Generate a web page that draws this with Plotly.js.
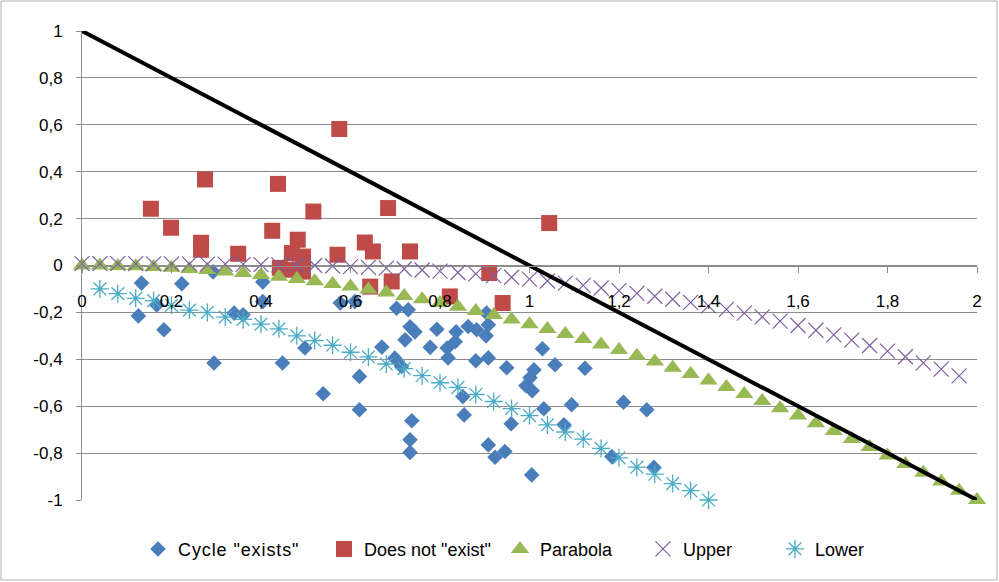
<!DOCTYPE html>
<html>
<head>
<meta charset="utf-8">
<script src="https://cdn.plot.ly/plotly-3.0.1.min.js"></script>
<style>
html,body{margin:0;padding:0;background:#fff;}
#chart{width:999px;height:582px;}
.legendtext{letter-spacing:0.9px;}
</style>
</head>
<body>
<div id="chart"></div>
<script>
// ---- Data ----
const cycleX = [0.133,0.223,0.293,0.404,0.404,0.167,0.126,0.183,0.340,0.360,0.295,0.448,0.498,0.539,0.577,0.610,0.703,0.729,0.733,0.744,0.722,0.793,0.836,0.834,0.778,0.816,0.818,0.863,0.882,0.904,0.903,0.908,0.880,0.908,0.949,0.670,0.699,0.714,0.620,0.620,0.851,0.854,0.737,0.733,0.733,0.908,0.923,0.945,0.959,1.029,1.057,1.010,0.992,1.006,1.094,1.032,1.077,1.005,1.124,1.210,1.262,1.184,1.278,1.001];
const cycleY = [-0.075,-0.078,-0.027,-0.070,-0.154,-0.168,-0.215,-0.274,-0.203,-0.210,-0.416,-0.416,-0.352,-0.547,-0.160,-0.154,-0.182,-0.189,-0.261,-0.283,-0.317,-0.272,-0.283,-0.325,-0.349,-0.352,-0.394,-0.260,-0.274,-0.203,-0.300,-0.253,-0.406,-0.394,-0.436,-0.348,-0.395,-0.431,-0.473,-0.615,-0.559,-0.637,-0.662,-0.743,-0.797,-0.765,-0.818,-0.793,-0.675,-0.355,-0.423,-0.445,-0.513,-0.534,-0.594,-0.611,-0.679,-0.893,-0.438,-0.583,-0.615,-0.815,-0.861,-0.479];

const notX = [0.154,0.199,0.275,0.266,0.266,0.349,0.438,0.425,0.442,0.482,0.469,0.494,0.494,0.465,0.517,0.575,0.571,0.632,0.650,0.684,0.733,0.644,0.692,0.822,0.910,0.940,1.044];
const notY = [0.242,0.161,0.367,0.097,0.067,0.050,0.348,0.148,-0.010,0.110,0.053,0.038,-0.026,-0.018,0.230,0.582,0.046,0.098,0.060,0.245,0.060,-0.090,-0.068,-0.132,-0.032,-0.160,0.181];

const parabolaX = [0,0.04,0.08,0.12,0.16,0.2,0.24,0.28,0.32,0.36,0.4,0.44,0.48,0.52,0.56,0.6,0.64,0.68,0.72,0.76,0.8,0.84,0.88,0.92,0.96,1.0,1.04,1.08,1.12,1.16,1.2,1.24,1.28,1.32,1.36,1.4,1.44,1.48,1.52,1.56,1.6,1.64,1.68,1.72,1.76,1.8,1.84,1.88,1.92,1.96,2.0];
const parabolaY = [0,-0.0004,-0.0016,-0.0036,-0.0064,-0.01,-0.0144,-0.0196,-0.0256,-0.0324,-0.04,-0.0484,-0.0576,-0.0676,-0.0784,-0.09,-0.1024,-0.1156,-0.1296,-0.1444,-0.16,-0.1764,-0.1936,-0.2116,-0.2304,-0.25,-0.2704,-0.2916,-0.3136,-0.3364,-0.36,-0.3844,-0.4096,-0.4356,-0.4624,-0.49,-0.5184,-0.5476,-0.5776,-0.6084,-0.64,-0.6724,-0.7056,-0.7396,-0.7744,-0.81,-0.8464,-0.8836,-0.9216,-0.9604,-1.0];

const upperX = [0,0.04,0.08,0.12,0.16,0.2,0.24,0.28,0.32,0.36,0.4,0.44,0.48,0.52,0.56,0.6,0.64,0.68,0.72,0.76,0.8,0.84,0.88,0.92,0.96,1.0,1.04,1.08,1.12,1.16,1.2,1.24,1.28,1.32,1.36,1.4,1.44,1.48,1.52,1.56,1.6,1.64,1.68,1.72,1.76,1.8,1.84,1.88,1.92,1.96];
const upperY = [0.008,0.008,0.008,0.008,0.007,0.007,0.007,0.006,0.006,0.005,0.004,0.003,0.001,0,-0.002,-0.005,-0.008,-0.011,-0.015,-0.019,-0.024,-0.030,-0.036,-0.043,-0.050,-0.058,-0.066,-0.075,-0.085,-0.096,-0.107,-0.119,-0.131,-0.144,-0.157,-0.172,-0.187,-0.203,-0.219,-0.237,-0.256,-0.276,-0.296,-0.318,-0.341,-0.365,-0.389,-0.415,-0.442,-0.471];

const lowerX = [0.04,0.08,0.12,0.16,0.2,0.24,0.28,0.32,0.36,0.4,0.44,0.48,0.52,0.56,0.6,0.64,0.68,0.72,0.76,0.8,0.84,0.88,0.92,0.96,1.0,1.04,1.08,1.12,1.16,1.2,1.24,1.28,1.32,1.36,1.4];
const lowerY = [-0.10,-0.12,-0.14,-0.15,-0.17,-0.19,-0.20,-0.22,-0.23,-0.25,-0.27,-0.30,-0.32,-0.34,-0.37,-0.39,-0.42,-0.44,-0.47,-0.50,-0.52,-0.55,-0.58,-0.61,-0.64,-0.68,-0.71,-0.74,-0.78,-0.82,-0.86,-0.89,-0.93,-0.96,-1.00];

const boundX = [0, 2];
const boundY = [1, -1];

const seriesNames = ['Cycle "exists"', 'Does not "exist"', 'Parabola', 'Upper', 'Lower'];
const xTickVals = [0,0.2,0.4,0.6,0.8,1,1.2,1.4,1.6,1.8,2];
const xTickText = ['0','0,2','0,4','0,6','0,8','1','1,2','1,4','1,6','1,8','2'];
const yTickVals = [-1,-0.8,-0.6,-0.4,-0.2,0,0.2,0.4,0.6,0.8,1];
const yTickText = ['-1','-0,8','-0,6','-0,4','-0,2','0','0,2','0,4','0,6','0,8','1'];

const FONT = 'Liberation Sans, Arial, sans-serif';
const GRID = '#8c8c8c';

// plot area in pixels (for placing the legend entries in paper coordinates)
const PLOT_L = 82, PLOT_W = 895;
const legendLeftPx = [138, 324, 500, 643, 775];
const legendY = -0.105;

const traces = [
  {x: cycleX, y: cycleY, name: seriesNames[0], legend: 'legend', type: 'scatter', mode: 'markers', cliponaxis: false,
   marker: {symbol: 'diamond', size: 12, color: '#4A7EBB'}},
  {x: notX, y: notY, name: seriesNames[1], legend: 'legend2', type: 'scatter', mode: 'markers', cliponaxis: false,
   marker: {symbol: 'square', size: 16, color: '#BE4B48'}},
  {x: parabolaX, y: parabolaY, name: seriesNames[2], legend: 'legend3', type: 'scatter', mode: 'markers', cliponaxis: false,
   marker: {symbol: 'triangle-up', size: 16, color: '#98B954'}},
  {x: upperX, y: upperY, name: seriesNames[3], legend: 'legend4', type: 'scatter', mode: 'markers', cliponaxis: false,
   marker: {symbol: 'x-thin-open', size: 15, color: '#7D60A0', line: {width: 1.2, color: '#7D60A0'}}},
  {x: lowerX, y: lowerY, name: seriesNames[4], legend: 'legend5', type: 'scatter', mode: 'markers', cliponaxis: false,
   marker: {symbol: 'asterisk-open', size: 15, color: '#4BACC6', line: {width: 1.3, color: '#4BACC6'}}},
  {x: boundX, y: boundY, type: 'scatter', mode: 'lines', showlegend: false, hoverinfo: 'skip',
   line: {color: '#000000', width: 4}}
];

function legendAt(px) {
  return {orientation: 'h', x: (px - PLOT_L) / PLOT_W, xanchor: 'left', y: legendY, yanchor: 'middle',
          font: {family: FONT, size: 18, color: '#000000'}, itemwidth: 30,
          bgcolor: 'rgba(0,0,0,0)', borderwidth: 0};
}

const layout = {
  width: 999, height: 582, autosize: false,
  margin: {l: 82, r: 22, t: 31, b: 82, pad: 0},
  paper_bgcolor: '#ffffff', plot_bgcolor: '#ffffff',
  font: {family: FONT, size: 15, color: '#000000'},
  showlegend: true,
  legend: legendAt(legendLeftPx[0]),
  legend2: legendAt(legendLeftPx[1]),
  legend3: legendAt(legendLeftPx[2]),
  legend4: legendAt(legendLeftPx[3]),
  legend5: legendAt(legendLeftPx[4]),
  xaxis: {range: [0, 2], anchor: 'free', position: 0.5, showgrid: false, zeroline: false,
          showline: true, linecolor: GRID, linewidth: 1,
          ticks: 'outside', ticklen: 6, tickcolor: GRID, tickwidth: 1,
          tickmode: 'array', tickvals: xTickVals, ticktext: xTickText,
          ticklabelstandoff: 14, tickfont: {family: FONT, size: 17, color: '#000'}},
  yaxis: {range: [-1, 1], showgrid: true, gridcolor: GRID, gridwidth: 1, zeroline: false,
          showline: true, linecolor: GRID, linewidth: 1,
          ticks: 'outside', ticklen: 5, tickcolor: GRID, tickwidth: 1,
          tickmode: 'array', tickvals: yTickVals, ticktext: yTickText,
          ticklabelstandoff: 10, tickfont: {family: FONT, size: 17, color: '#000'}},
  shapes: [{type: 'rect', xref: 'paper', yref: 'paper',
            x0: (1 - 82) / 895, x1: (997 - 82) / 895, y0: (500 - 580) / 469, y1: (500 - 1) / 469,
            line: {color: '#b0b0b0', width: 1}, fillcolor: 'rgba(0,0,0,0)', layer: 'below'}]
};

Plotly.newPlot('chart', traces, layout, {displayModeBar: false, staticPlot: true});
</script>
</body>
</html>
